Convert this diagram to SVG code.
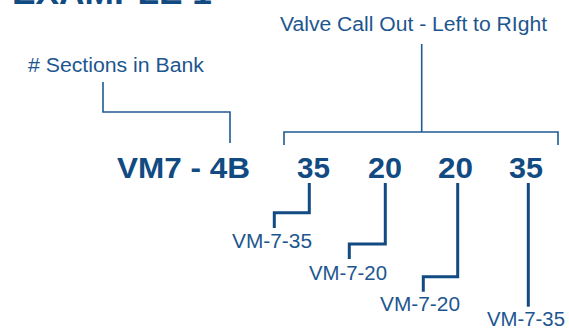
<svg xmlns="http://www.w3.org/2000/svg" width="569" height="329" viewBox="0 0 569 329">
<style>
.t{font-family:"Liberation Sans",Arial,sans-serif;fill:#1d568f;font-size:20px}
.b{font-family:"Liberation Sans",Arial,sans-serif;fill:#124a82;font-size:30px;font-weight:bold}
.thin{fill:none;stroke:#1f5a93;stroke-width:1.6}
.thick{fill:none;stroke:#124a82;stroke-width:3}
</style>
<rect width="569" height="329" fill="#ffffff"/>
<text class="b" x="12" y="4" font-size="34" style="font-size:34px" textLength="200" lengthAdjust="spacingAndGlyphs">EXAMPLE 1</text>
<g id="label-sections"><text class="t" x="28" y="72" textLength="176" lengthAdjust="spacingAndGlyphs"># Sections in Bank</text></g>
<g id="label-valve"><text class="t" x="280" y="31" textLength="267" lengthAdjust="spacingAndGlyphs">Valve Call Out - Left to RIght</text></g>
<g id="code-model"><text class="b" x="117" y="178" textLength="133" lengthAdjust="spacingAndGlyphs">VM7 - 4B</text></g>
<g id="code-35a"><text class="b" x="297" y="178" textLength="33" lengthAdjust="spacingAndGlyphs">35</text></g>
<g id="code-20a"><text class="b" x="368" y="178" textLength="34" lengthAdjust="spacingAndGlyphs">20</text></g>
<g id="code-20b"><text class="b" x="438" y="178" textLength="35" lengthAdjust="spacingAndGlyphs">20</text></g>
<g id="code-35b"><text class="b" x="509" y="178" textLength="34" lengthAdjust="spacingAndGlyphs">35</text></g>
<g id="valve-1"><text class="t" x="232" y="248" textLength="80" lengthAdjust="spacingAndGlyphs">VM-7-35</text></g>
<g id="valve-2"><text class="t" x="309" y="280" textLength="78" lengthAdjust="spacingAndGlyphs">VM-7-20</text></g>
<g id="valve-3"><text class="t" x="380" y="310.5" textLength="80" lengthAdjust="spacingAndGlyphs">VM-7-20</text></g>
<g id="valve-4"><text class="t" x="487" y="325.5" textLength="78" lengthAdjust="spacingAndGlyphs">VM-7-35</text></g>
<g id="connectors">
<path class="thin" d="M103 82V112H230V143"/>
<path class="thin" d="M421.7 44V132"/>
<path class="thin" d="M284 145V132H558V145"/>
<path class="thick" d="M309.3 183V212.7H274.3V228"/>
<path class="thick" d="M385.3 183V244H349.3V259"/>
<path class="thick" d="M457.7 183V276.7H423.3V291.7"/>
<path class="thick" d="M528.3 183V306.7"/>
</g>
</svg>
